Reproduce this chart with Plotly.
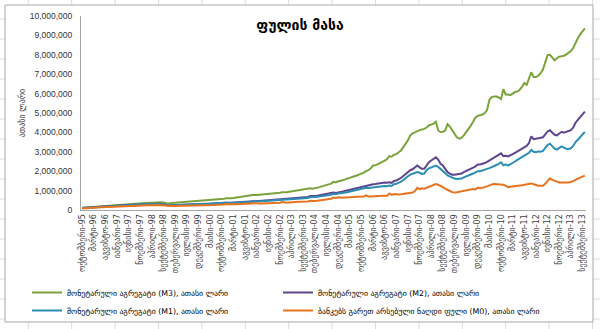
import plotly.graph_objects as go

# ---- data (values in millions of "thousand lari") ----
month_names = ["იანვარი", "თებერვალი", "მარტი", "აპრილი", "მაისი", "ივნისი",
               "ივლისი", "აგვისტო", "სექტემბერი", "ოქტომბერი", "ნოემბერი", "დეკემბერი"]
start_year, start_month = 1995, 10

m3 = [
    0.11, 0.12, 0.13,
    0.13, 0.14, 0.15, 0.16, 0.17, 0.18, 0.19, 0.21, 0.22, 0.23, 0.24, 0.26,
    0.26, 0.27, 0.28, 0.29, 0.30, 0.31, 0.32, 0.33, 0.34, 0.35, 0.36, 0.38,
    0.37, 0.37, 0.38, 0.38, 0.39, 0.39, 0.40, 0.40, 0.39, 0.37, 0.33, 0.35,
    0.38, 0.38, 0.39, 0.40, 0.40, 0.41, 0.42, 0.42, 0.43, 0.44, 0.45, 0.47,
    0.46, 0.47, 0.48, 0.49, 0.51, 0.52, 0.53, 0.54, 0.56, 0.57, 0.58, 0.61,
    0.60, 0.61, 0.62, 0.64, 0.66, 0.68, 0.70, 0.71, 0.72, 0.73, 0.75, 0.78,
    0.77, 0.78, 0.79, 0.80, 0.82, 0.83, 0.84, 0.85, 0.86, 0.88, 0.89, 0.92,
    0.91, 0.92, 0.94, 0.96, 0.98, 1.00, 1.02, 1.06, 1.05, 1.06, 1.08, 1.12,
    1.10, 1.12, 1.15, 1.18, 1.22, 1.25, 1.28, 1.32, 1.36, 1.45, 1.42, 1.48,
    1.50, 1.53, 1.58, 1.63, 1.66, 1.70, 1.74, 1.78, 1.82, 1.88, 1.93, 2.00,
    2.05, 2.15, 2.29, 2.30, 2.35, 2.40, 2.48, 2.55, 2.62, 2.78, 2.75, 2.85,
    2.88, 2.98, 3.07, 3.24, 3.40, 3.60, 3.85, 3.95, 4.00, 4.08, 4.12, 4.15,
    4.18, 4.25, 4.37, 4.40, 4.45, 4.55, 4.10, 4.02, 4.03, 4.10, 4.43, 4.30,
    4.10, 3.90, 3.75, 3.68, 3.72, 3.85, 4.00, 4.15, 4.35, 4.55, 4.77, 4.85,
    4.88, 4.92, 5.00, 5.15, 5.68, 5.82, 5.85, 5.85, 5.80, 5.72, 6.23, 5.95,
    5.95, 5.92, 6.00, 6.08, 6.11, 6.20, 6.35, 6.55, 6.45, 6.80, 7.10, 6.85,
    6.85, 6.92, 7.05, 7.24, 7.60, 7.98, 8.00, 7.85, 7.72, 7.82, 7.90, 7.92,
    7.95, 8.02, 8.10, 8.19, 8.35, 8.63, 8.85, 9.05, 9.22, 9.36,
]

m2 = [
    0.10, 0.11, 0.12,
    0.12, 0.13, 0.14, 0.15, 0.16, 0.17, 0.18, 0.19, 0.19, 0.20, 0.21, 0.22,
    0.22, 0.23, 0.24, 0.25, 0.25, 0.26, 0.27, 0.27, 0.28, 0.28, 0.29, 0.31,
    0.30, 0.30, 0.30, 0.31, 0.31, 0.31, 0.32, 0.31, 0.30, 0.27, 0.24, 0.25,
    0.26, 0.26, 0.27, 0.27, 0.27, 0.28, 0.28, 0.28, 0.29, 0.29, 0.30, 0.32,
    0.31, 0.31, 0.32, 0.32, 0.33, 0.34, 0.34, 0.35, 0.36, 0.36, 0.37, 0.40,
    0.38, 0.38, 0.39, 0.40, 0.41, 0.42, 0.43, 0.43, 0.44, 0.45, 0.46, 0.49,
    0.47, 0.47, 0.48, 0.49, 0.50, 0.51, 0.52, 0.52, 0.53, 0.54, 0.55, 0.58,
    0.56, 0.57, 0.58, 0.59, 0.60, 0.62, 0.64, 0.66, 0.65, 0.66, 0.67, 0.72,
    0.71, 0.72, 0.73, 0.75, 0.77, 0.79, 0.81, 0.83, 0.85, 0.90, 0.88, 0.92,
    0.93, 0.95, 0.98, 1.01, 1.05, 1.08, 1.10, 1.13, 1.16, 1.19, 1.22, 1.28,
    1.27, 1.30, 1.33, 1.34, 1.36, 1.38, 1.40, 1.42, 1.40, 1.43, 1.40, 1.50,
    1.52, 1.58, 1.65, 1.75, 1.86, 1.95, 2.05, 2.10, 2.18, 2.29, 2.20, 2.12,
    2.12, 2.30, 2.46, 2.55, 2.62, 2.72, 2.60, 2.38, 2.29, 2.10, 1.95, 1.88,
    1.82, 1.82, 1.83, 1.85, 1.88, 1.95, 2.00, 2.08, 2.12, 2.18, 2.25, 2.35,
    2.35, 2.38, 2.42, 2.48, 2.55, 2.64, 2.70, 2.78, 2.85, 2.92, 2.78, 2.80,
    2.76, 2.80, 2.88, 2.95, 3.02, 3.10, 3.18, 3.24, 3.30, 3.45, 3.80, 3.65,
    3.68, 3.70, 3.72, 3.75, 3.90, 4.05, 4.11, 4.00, 3.88, 3.85, 3.95, 4.03,
    3.98, 4.03, 4.08, 4.11, 4.25, 4.50, 4.65, 4.80, 4.95, 5.07,
]

m1 = [
    0.10, 0.10, 0.11,
    0.11, 0.12, 0.13, 0.14, 0.15, 0.16, 0.17, 0.18, 0.18, 0.19, 0.20, 0.21,
    0.21, 0.22, 0.23, 0.24, 0.24, 0.25, 0.26, 0.26, 0.27, 0.27, 0.28, 0.30,
    0.29, 0.29, 0.29, 0.30, 0.30, 0.30, 0.31, 0.30, 0.29, 0.26, 0.23, 0.24,
    0.25, 0.25, 0.26, 0.26, 0.26, 0.27, 0.27, 0.27, 0.28, 0.28, 0.29, 0.31,
    0.30, 0.30, 0.31, 0.31, 0.32, 0.32, 0.33, 0.33, 0.34, 0.34, 0.35, 0.38,
    0.36, 0.36, 0.37, 0.38, 0.38, 0.39, 0.40, 0.40, 0.41, 0.42, 0.43, 0.46,
    0.44, 0.44, 0.45, 0.46, 0.46, 0.47, 0.48, 0.48, 0.49, 0.50, 0.51, 0.54,
    0.52, 0.53, 0.54, 0.55, 0.56, 0.57, 0.59, 0.61, 0.60, 0.61, 0.62, 0.67,
    0.66, 0.67, 0.68, 0.69, 0.71, 0.72, 0.74, 0.76, 0.78, 0.83, 0.81, 0.85,
    0.86, 0.87, 0.90, 0.92, 0.95, 0.98, 1.00, 1.02, 1.05, 1.07, 1.10, 1.15,
    1.14, 1.16, 1.18, 1.19, 1.20, 1.22, 1.23, 1.24, 1.23, 1.26, 1.24, 1.33,
    1.35, 1.40, 1.46, 1.55, 1.66, 1.74, 1.82, 1.88, 1.92, 1.96, 1.92, 1.86,
    1.88, 2.05, 2.15, 2.20, 2.25, 2.29, 2.22, 2.12, 2.05, 1.90, 1.78, 1.72,
    1.66, 1.62, 1.60, 1.60, 1.62, 1.68, 1.72, 1.78, 1.82, 1.88, 1.94, 2.00,
    2.00, 2.03, 2.07, 2.12, 2.16, 2.20, 2.25, 2.32, 2.38, 2.46, 2.30, 2.35,
    2.29, 2.35, 2.42, 2.50, 2.58, 2.65, 2.72, 2.81, 2.85, 2.95, 3.10, 3.00,
    2.98, 3.02, 3.00, 3.05, 3.20, 3.35, 3.42, 3.30, 3.16, 3.11, 3.20, 3.28,
    3.22, 3.16, 3.15, 3.18, 3.30, 3.50, 3.62, 3.75, 3.90, 4.03,
]

m0 = [
    0.08, 0.09, 0.09,
    0.09, 0.10, 0.11, 0.12, 0.13, 0.14, 0.14, 0.15, 0.15, 0.16, 0.16, 0.18,
    0.17, 0.18, 0.18, 0.19, 0.19, 0.20, 0.21, 0.21, 0.22, 0.22, 0.22, 0.25,
    0.24, 0.24, 0.24, 0.25, 0.25, 0.25, 0.26, 0.25, 0.24, 0.22, 0.19, 0.20,
    0.20, 0.20, 0.21, 0.21, 0.21, 0.22, 0.22, 0.22, 0.23, 0.23, 0.23, 0.26,
    0.24, 0.24, 0.25, 0.25, 0.25, 0.26, 0.26, 0.27, 0.27, 0.28, 0.28, 0.31,
    0.29, 0.29, 0.29, 0.30, 0.30, 0.31, 0.31, 0.32, 0.32, 0.33, 0.33, 0.36,
    0.33, 0.33, 0.34, 0.34, 0.34, 0.35, 0.35, 0.36, 0.36, 0.37, 0.37, 0.41,
    0.38, 0.38, 0.39, 0.39, 0.40, 0.41, 0.42, 0.43, 0.43, 0.44, 0.44, 0.48,
    0.46, 0.47, 0.48, 0.50, 0.52, 0.54, 0.56, 0.57, 0.58, 0.64, 0.62, 0.66,
    0.63, 0.63, 0.64, 0.64, 0.65, 0.66, 0.67, 0.68, 0.68, 0.69, 0.70, 0.76,
    0.70, 0.70, 0.70, 0.71, 0.72, 0.73, 0.73, 0.74, 0.73, 0.85, 0.78, 0.82,
    0.80, 0.80, 0.81, 0.82, 0.84, 0.86, 0.88, 0.90, 0.98, 1.14, 1.08, 1.12,
    1.10, 1.15, 1.20, 1.25, 1.30, 1.34, 1.30, 1.25, 1.18, 1.10, 1.02, 0.98,
    0.92, 0.90, 0.92, 0.94, 0.96, 0.98, 1.00, 1.04, 1.07, 1.08, 1.06, 1.15,
    1.12, 1.14, 1.18, 1.22, 1.28, 1.32, 1.34, 1.33, 1.34, 1.34, 1.30, 1.25,
    1.18, 1.20, 1.21, 1.22, 1.24, 1.26, 1.28, 1.30, 1.32, 1.33, 1.37, 1.33,
    1.28, 1.25, 1.25, 1.25, 1.35, 1.50, 1.63, 1.55, 1.50, 1.45, 1.42, 1.42,
    1.42, 1.40, 1.42, 1.44, 1.48, 1.55, 1.62, 1.68, 1.73, 1.77,
]

series_names = [
    "მონეტარული აგრეგატი (M3), ათასი ლარი",
    "მონეტარული აგრეგატი (M2), ათასი ლარი",
    "მონეტარული აგრეგატი (M1), ათასი ლარი",
    "ბანკებს გარეთ არსებული ნაღდი ფული (M0), ათასი ლარი",
]
series_colors = ["#7BA33B", "#5F4590", "#2B8DB2", "#E8731E"]
series_legends = ["legend", "legend2", "legend3", "legend4"]
scale = 1_000_000

# ---- category labels ----
labels = []
yy, mm = start_year, start_month
for _ in range(len(m3)):
    labels.append(f"{month_names[mm - 1]}-{yy % 100:02d}")
    mm += 1
    if mm > 12:
        mm = 1
        yy += 1
tick_labels = labels[::5]

fig = go.Figure()
for name, vals, color, lg in zip(series_names, [m3, m2, m1, m0], series_colors, series_legends):
    fig.add_trace(go.Scatter(
        x=labels[:len(vals)], y=[v * scale for v in vals], mode="lines", name=name,
        line=dict(color=color, width=2), legend=lg,
    ))

# pixel geometry helpers
L, T, B, W, H = 81, 16, 119, 600, 329
PW, PH = W - L - 14, H - T - B
def xp(px):
    return (px - L) / PW
def yp(py):
    return (H - B - py) / PH

shapes = []
grid_col = "#dcdcdc"
for k in range(-1, 17):
    py = 19 + 20 * k
    shapes.append(dict(type="line", xref="paper", yref="paper", layer="below",
                       x0=xp(0), x1=xp(W), y0=yp(py), y1=yp(py),
                       line=dict(color=grid_col, width=1)))
for k in range(0, 15):
    px = 28.3 + 43.4 * k
    shapes.append(dict(type="line", xref="paper", yref="paper", layer="below",
                       x0=xp(px), x1=xp(px), y0=yp(0), y1=yp(H),
                       line=dict(color=grid_col, width=1)))
shapes.append(dict(type="rect", xref="paper", yref="paper", layer="below",
                   x0=xp(5), x1=xp(593), y0=yp(5), y1=yp(322),
                   fillcolor="white", line=dict(color="#a8a8a8", width=1)))

legend_font = dict(family="DejaVu Sans", size=7.8, color="#000000")
def legend_at(px, py):
    return dict(orientation="v", x=xp(px), xanchor="left", y=yp(py), yanchor="top",
                font=legend_font, bgcolor="rgba(0,0,0,0)", tracegroupgap=0)

fig.update_layout(
    width=W, height=H,
    margin=dict(l=L, r=14, t=T, b=B, autoexpand=False),
    paper_bgcolor="white", plot_bgcolor="white",
    shapes=shapes,
    title=dict(text="<b>ფულის მასა</b>", x=0.5, xref="container", xanchor="center",
               y=1 - 25 / H, yref="container", yanchor="middle",
               font=dict(family="DejaVu Sans", size=14, color="#000000")),
    showlegend=True,
    legend=legend_at(27, 278),
    legend2=legend_at(278, 278),
    legend3=legend_at(27, 296),
    legend4=legend_at(278, 296),
    xaxis=dict(type="category", tickmode="array", tickvals=tick_labels, ticktext=tick_labels,
               tickangle=-90, range=[-0.5, len(labels) - 0.5],
               tickfont=dict(family="DejaVu Sans", size=8, color="#404040"),
               showline=True, linecolor="#a6a6a6", linewidth=1, showgrid=False,
               ticks="", zeroline=False, automargin=False),
    yaxis=dict(range=[0, 10_000_000], dtick=1_000_000, tickformat=",d",
               tickfont=dict(family="Liberation Sans", size=8.5, color="#333333"),
               ticklabelstandoff=6,
               showline=True, linecolor="#a6a6a6", linewidth=1, showgrid=False,
               ticks="", zeroline=False, automargin=False,
               title=dict(text="ათასი ლარი", standoff=2,
                          font=dict(family="DejaVu Sans", size=8, color="#333333"))),
)

fig.write_html("out.html")
